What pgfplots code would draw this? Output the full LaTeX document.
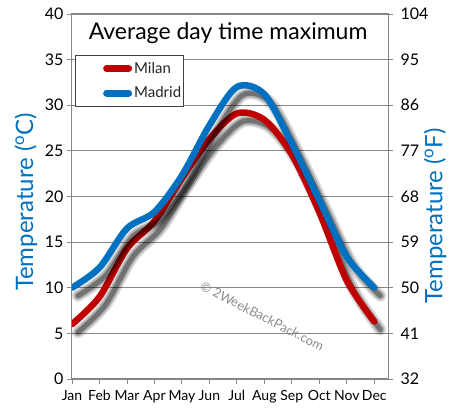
\documentclass[border=0pt]{standalone}
\usepackage{pgfplots}
\pgfplotsset{compat=1.18}
\usepackage{fontspec}
\setmainfont{Lato}
\definecolor{milan}{RGB}{192,0,0}
\definecolor{madrid}{RGB}{0,112,192}
\definecolor{gridgray}{RGB}{134,134,134}
\pgfplotstableread{
x milan madrid
0 6.0 10.0
1 9.0 12.2
2 14.3 16.5
3 17.3 18.3
4 22.0 22.3
5 26.3 27.8
6 29.1 32.0
7 28.4 31.2
8 24.6 25.8
9 18.3 19.6
10 10.8 13.4
11 6.3 10.0
}\temps
\pgfplotsset{
  shadowA/.style={forget plot, smooth, black, opacity=0.14, line width=12pt, xshift=6pt, yshift=-8pt, line cap=round, line join=round},
  shadowB/.style={forget plot, smooth, black, opacity=0.2, line width=8.5pt, xshift=6pt, yshift=-8pt, line cap=round, line join=round},
  shadowC/.style={forget plot, smooth, black, opacity=0.35, line width=5pt, xshift=6pt, yshift=-8pt, line cap=round, line join=round},
}
\begin{document}
\begin{tikzpicture}
\useasboundingbox (-72pt,-41pt) rectangle (381pt,379pt);
\begin{axis}[
  at={(0pt,0pt)}, anchor=south west,
  scale only axis, width=316pt, height=365pt,
  xmin=0, xmax=11.5, ymin=0, ymax=40,
  xtick={0,...,11},
  xticklabels={Jan,Feb,Mar,Apr,May,Jun,Jul,Aug,Sep,Oct,Nov,Dec},
  ytick={0,5,...,40},
  xtick pos=bottom, ytick pos=left,
  axis line style={gridgray, line width=1pt},
  ymajorgrids, grid style={gridgray, line width=0.9pt},
  tick style={gridgray, line width=0.9pt},
  tick align=outside, major tick length=5pt,
  /pgf/number format/assume math mode=true,
  yticklabel style={font=\fontsize{16}{16}\selectfont, black},
  xticklabel style={font=\fontsize{14}{14}\selectfont, black, yshift=-3pt},
  every axis y label/.style={at={(axis description cs:-0.146,0.485)}, rotate=90, anchor=center},
  ylabel={Temperature (\textsuperscript{o}C)},
  ylabel style={font=\fontsize{24}{24}\selectfont, color=madrid},
  legend style={at={(axis description cs:0.0095,0.888)}, anchor=north west,
    draw=black!75, line width=0.8pt, fill=white,
    font=\fontsize{15}{15}\selectfont, text=black!85,
    inner xsep=0pt, inner ysep=5pt, row sep=8pt,
    nodes={inner sep=2pt}},
  legend cell align=left,
  legend image code/.code={\path (0pt,0pt); \draw[#1, line width=7pt, line cap=round] (28pt,0pt) -- (50pt,0pt);},
]
\addplot[shadowA] table[x=x, y=milan] {\temps};
\addplot[shadowB] table[x=x, y=milan] {\temps};
\addplot[shadowC] table[x=x, y=milan] {\temps};
\addplot[milan, line width=6.5pt, smooth, line cap=round, line join=round] table[x=x, y=milan] {\temps};
\addlegendentry{Milan}
\addplot[shadowA] table[x=x, y=madrid] {\temps};
\addplot[shadowB] table[x=x, y=madrid] {\temps};
\addplot[shadowC] table[x=x, y=madrid] {\temps};
\addplot[madrid, line width=6.5pt, smooth, line cap=round, line join=round] table[x=x, y=madrid] {\temps};
\addlegendentry{Madrid\hspace{22pt}}
\node[font=\fontsize{23}{23}\selectfont, black] at (axis description cs:0.494,0.948) {Average day time maximum};
\node[rotate=-27, font=\fontsize{13}{13}\selectfont, black!45] at (axis cs:6.92,6.9) {\textcopyright{} 2WeekBackPack.com};
\end{axis}
\begin{axis}[
  at={(0pt,0pt)}, anchor=south west,
  scale only axis, width=316pt, height=365pt,
  xmin=0, xmax=11.5, ymin=32, ymax=104,
  axis x line=none, axis y line*=right,
  ytick={32,41,...,104},
  axis line style={gridgray, line width=1pt},
  tick style={gridgray, line width=0.9pt},
  tick align=outside, major tick length=5pt,
  /pgf/number format/assume math mode=true,
  yticklabel style={font=\fontsize{16}{16}\selectfont, black, xshift=4pt},
  every axis y label/.style={at={(axis description cs:1.149,0.447)}, rotate=90, anchor=center},
  ylabel={Temperature (\textsuperscript{o}F)},
  ylabel style={font=\fontsize{24}{24}\selectfont, color=madrid},
]
\end{axis}
\end{tikzpicture}
\end{document}
